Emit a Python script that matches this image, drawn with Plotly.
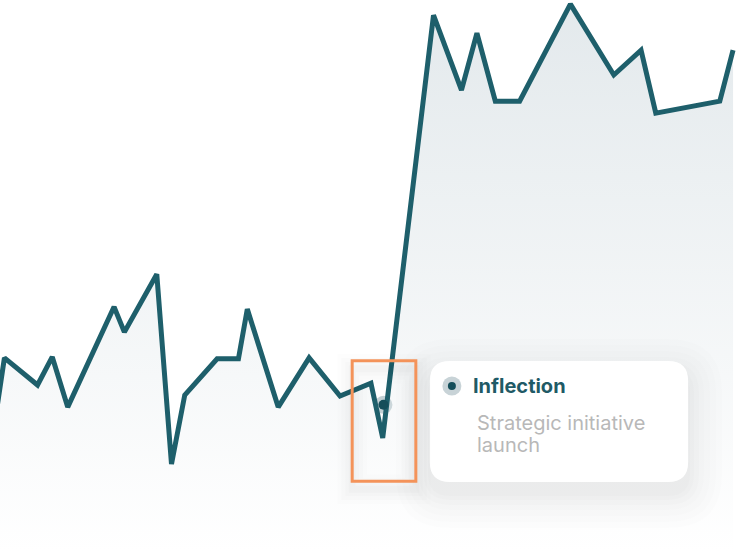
import plotly.graph_objects as go

# series (day index, value)
days = [-0.8, 0.6, 5.1, 7.1, 9.2, 15.5, 16.9, 21.3, 23.3, 25.1, 29.5, 32.4, 33.6, 37.8,
        42.0, 46.2, 50.4, 52.0, 58.9, 62.7, 64.8, 67.3, 70.6, 77.5, 83.4, 87.1, 89.1,
        97.8, 99.6]
values = [27.2, 42.2, 36.3, 42.4, 31.5, 53.3, 47.8, 60.4, 19.1, 34.1, 42.0, 42.0, 52.8,
          31.5, 42.2, 33.9, 36.7, 24.8, 116.7, 100.4, 112.8, 98.0, 98.0, 119.1, 103.7,
          109.1, 95.4, 98.0, 109.1]

# highlighted event
event_day = [52.1]
event_value = [32.0]
event_title = "Inflection"
event_lines = ["Strategic initiative", "launch"]

LINE = "#1e5f6b"
DARK = "#154e5a"
ORANGE = "#f4935a"

X_RANGE = [0, 100]
Y_RANGE = [0, 120]

fig = go.Figure()
# halo goes under the line, dot on top
fig.add_trace(go.Scatter(
    x=event_day, y=event_value, mode="markers",
    marker=dict(size=18, color="rgba(40,85,100,0.28)", line=dict(width=0)),
    hoverinfo="skip",
))
fig.add_trace(go.Scatter(
    x=days, y=values, mode="lines", fill="tozeroy",
    line=dict(color=LINE, width=5),
    fillgradient=dict(type="vertical", start=0, stop=120,
                      colorscale=[[0, "rgba(227,233,236,0)"], [1, "rgba(227,233,236,1)"]]),
    hoverinfo="skip",
))
fig.add_trace(go.Scatter(
    x=event_day, y=event_value, mode="markers",
    marker=dict(size=10, color=DARK, line=dict(width=0)),
    hoverinfo="skip",
))

# unit conversions (px -> data) for shapes
px_x = (X_RANGE[1] - X_RANGE[0]) / 736
px_y = (Y_RANGE[1] - Y_RANGE[0]) / 552


def rounded(x0, y0, x1, y1, r):
    rx, ry = r * px_x, r * px_y
    return (f"M{x0 + rx},{y1} L{x1 - rx},{y1} Q{x1},{y1} {x1},{y1 - ry} "
            f"L{x1},{y0 + ry} Q{x1},{y0} {x1 - rx},{y0} L{x0 + rx},{y0} "
            f"Q{x0},{y0} {x0},{y0 + ry} L{x0},{y1 - ry} Q{x0},{y1} {x0 + rx},{y1} Z")


shapes = []
# card box, data coords
cx0, cx1, cy0, cy1 = 58.4, 93.5, 15.2, 41.5
# soft drop shadow
for grow, alpha in [(34, 0.006), (28, 0.007), (22, 0.008), (16, 0.009), (11, 0.010), (6, 0.011), (2, 0.012)]:
    off = 12 * px_y
    shapes.append(dict(type="path", layer="above", line=dict(width=0),
                       fillcolor=f"rgba(0,0,0,{alpha})",
                       path=rounded(cx0 - grow * px_x, cy0 - grow * px_y - off,
                                    cx1 + grow * px_x, cy1 + grow * px_y - off, 20 + grow)))
shapes.append(dict(type="path", layer="above", line=dict(width=0), fillcolor="white",
                   path=rounded(cx0, cy0, cx1, cy1, 20)))

# highlight box around the event
hx0, hx1, hy0, hy1 = 47.85, 56.5, 15.4, 41.6
for w, alpha in [(30, 0.008), (22, 0.01), (14, 0.012), (7, 0.014)]:
    shapes.append(dict(type="rect", layer="above", x0=hx0, x1=hx1,
                       y0=hy0 - 8 * px_y, y1=hy1 - 8 * px_y,
                       line=dict(color=f"rgba(0,0,0,{alpha})", width=w)))
shapes.append(dict(type="rect", layer="above", x0=hx0, x1=hx1, y0=hy0, y1=hy1,
                   line=dict(color=ORANGE, width=3)))

# legend dot inside card
icon_x, icon_y = 61.4, 36.1
for r, col in [(9.5, "#c8d3d7"), (4, DARK)]:
    shapes.append(dict(type="circle", layer="above", xref="x", yref="y",
                       xsizemode="pixel", ysizemode="pixel", xanchor=icon_x, yanchor=icon_y,
                       x0=-r, x1=r, y0=-r, y1=r, fillcolor=col, line=dict(width=0)))

annotations = [
    dict(x=63.95, y=icon_y, xref="x", yref="y", text=f"<b>{event_title}</b>",
         showarrow=False, xanchor="left", yanchor="middle",
         font=dict(size=20, color="#1f5a66")),
]
for i, line in enumerate(event_lines):
    annotations.append(dict(x=64.5, y=28.0 - i * 22 * px_y, xref="x", yref="y", text=line,
                            showarrow=False, xanchor="left", yanchor="middle",
                            font=dict(size=20, color="#b8b8b8")))

fig.update_layout(
    width=736, height=552,
    margin=dict(l=0, r=0, t=0, b=0),
    paper_bgcolor="white", plot_bgcolor="white",
    showlegend=False, hovermode=False,
    xaxis=dict(range=X_RANGE, visible=False, fixedrange=True),
    yaxis=dict(range=Y_RANGE, visible=False, fixedrange=True),
    shapes=shapes,
    annotations=annotations,
    font=dict(family="Inter, Noto Sans, sans-serif"),
)

fig.write_html("out.html", config={"displayModeBar": False},
               post_script="document.body.style.margin='0';")
